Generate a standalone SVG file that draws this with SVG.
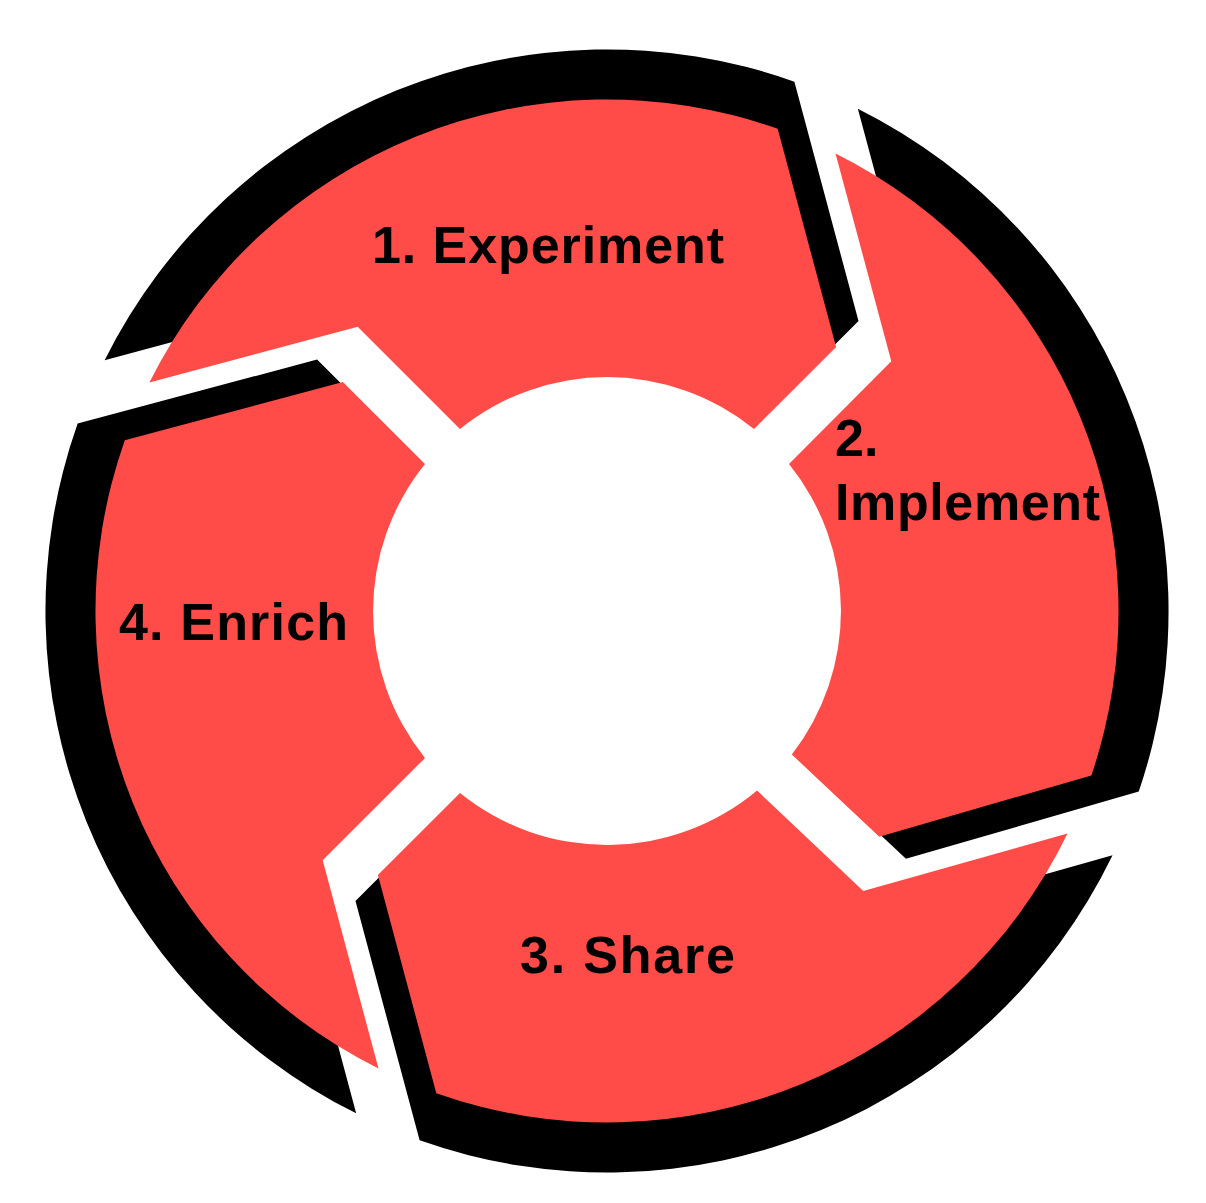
<svg xmlns="http://www.w3.org/2000/svg" xmlns:xlink="http://www.w3.org/1999/xlink" width="1206" height="1203" viewBox="0 0 1206 1203">
  <style>
    .seg { fill: #FF4C48; }
    .shadow { fill: #000000; }
    .label { font-family: "Liberation Sans", Arial, sans-serif; font-weight: bold; font-size: 52px; fill: #000000; }
  </style>
  <defs>
    <path id="seg1" d="M149.4 382.5 A511.5 511.5 0 0 1 777.7 128.8 L836.1 346.9 L754 429 A234 234 0 0 0 460 429 L357.7 326.7 Z"/>
    <path id="seg2" d="M835.5 153.4 A511.5 511.5 0 0 1 1091.4 775.4 L879.3 836.7 L791.8 754.5 A234 234 0 0 0 789 464 L891.3 361.2 Z"/>
    <path id="seg3" d="M1067.5 833.5 A511.5 511.5 0 0 1 436.3 1093.2 L377.9 875.1 L460 793 A234 234 0 0 0 757.1 790.5 L863.3 891 Z"/>
    <path id="seg4" d="M378.5 1068.6 A511.5 511.5 0 0 1 124.8 440.3 L342.9 381.9 L425 464 A234 234 0 0 0 425 758 L322.7 860.3 Z"/>
  </defs>
  <rect x="0" y="0" width="1206" height="1203" fill="#FFFFFF"/>
  <g id="node-experiment">
    <use xlink:href="#seg1" href="#seg1" class="shadow" transform="translate(607 611) scale(1.0978) translate(-607 -611)"/>
    <use xlink:href="#seg1" href="#seg1" class="seg"/>
    <text class="label" x="372" y="263" textLength="352">1. Experiment</text>
  </g>
  <g id="node-implement">
    <use xlink:href="#seg2" href="#seg2" class="shadow" transform="translate(607 611) scale(1.0978) translate(-607 -611)"/>
    <use xlink:href="#seg2" href="#seg2" class="seg"/>
    <text class="label" x="835" y="456">2.</text>
    <text class="label" x="835" y="520" textLength="265">Implement</text>
  </g>
  <g id="node-share">
    <use xlink:href="#seg3" href="#seg3" class="shadow" transform="translate(607 611) scale(1.0978) translate(-607 -611)"/>
    <use xlink:href="#seg3" href="#seg3" class="seg"/>
    <text class="label" x="520" y="973" textLength="215">3. Share</text>
  </g>
  <g id="node-enrich">
    <use xlink:href="#seg4" href="#seg4" class="shadow" transform="translate(607 611) scale(1.0978) translate(-607 -611)"/>
    <use xlink:href="#seg4" href="#seg4" class="seg"/>
    <text class="label" x="119" y="640" textLength="229">4. Enrich</text>
  </g>
</svg>
